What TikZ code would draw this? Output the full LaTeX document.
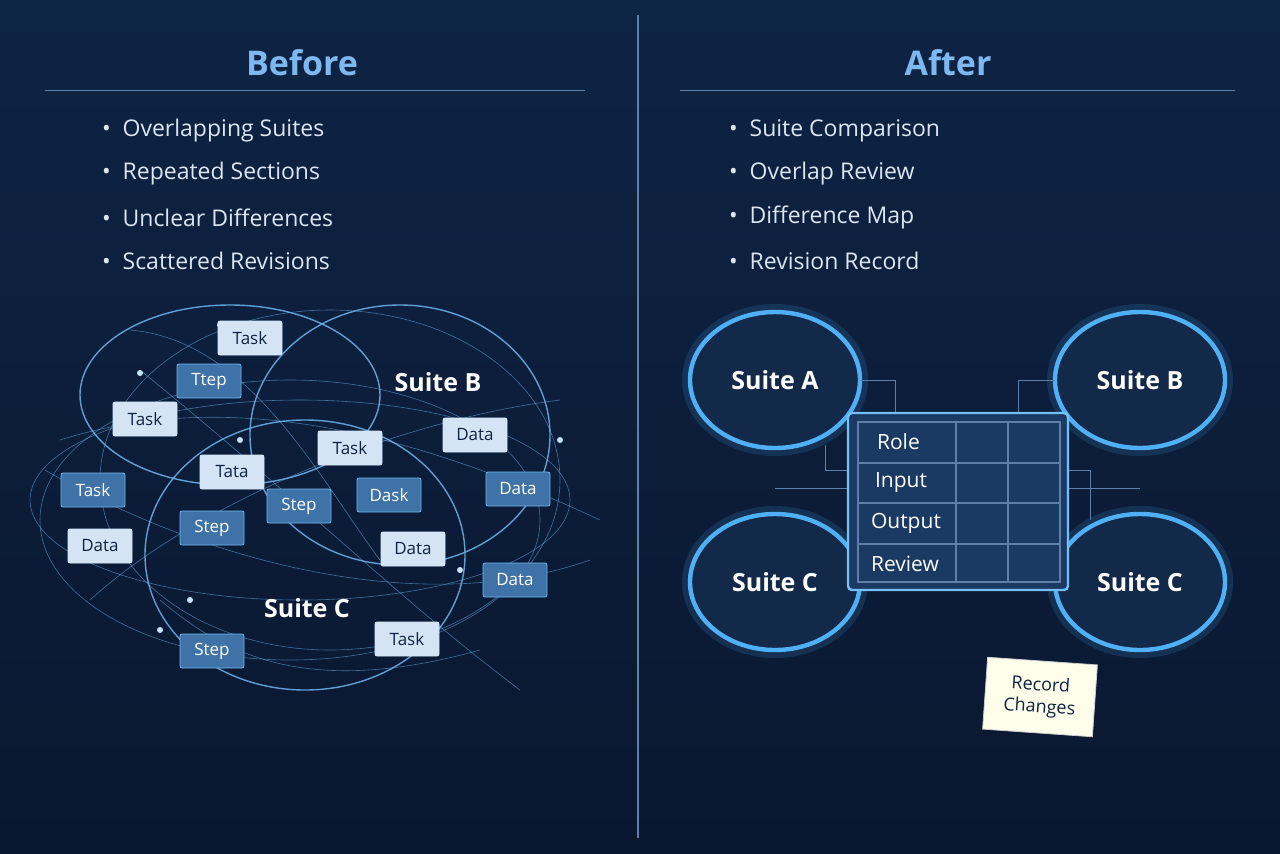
\documentclass[tikz,border=0pt]{standalone}
\usepackage{fontspec}
\setmainfont{Open Sans}
\definecolor{bgtop}{HTML}{0E2444}
\definecolor{bgbot}{HTML}{0A1730}
\definecolor{ttlc}{HTML}{7DB9F0}
\definecolor{txt}{HTML}{DCE6F2}
\definecolor{ringc}{HTML}{6FB6EE}
\definecolor{suitef}{HTML}{12294A}
\definecolor{suited}{HTML}{4FB0F5}
\definecolor{lboxf}{HTML}{D4E4F4}
\definecolor{dboxf}{HTML}{3F73A8}
\definecolor{linec}{HTML}{5E7FA8}
\definecolor{tablef}{HTML}{1A3A63}
\begin{document}
\begin{tikzpicture}[x=0.5pt,y=-0.5pt,
 bul/.style={anchor=west,text=txt,font=\fontsize{11.5}{14}\selectfont},
 ttl/.style={text=ttlc,font=\bfseries\fontsize{17}{20}\selectfont},
 lbox/.style={draw=white!70!ringc,fill=lboxf,text=bgtop,rounded corners=1pt,minimum width=32pt,minimum height=17pt,font=\fontsize{8.5}{10}\selectfont,inner sep=2pt},
 dbox/.style={lbox,draw=ringc,fill=dboxf,text=white},
 ring/.style={draw=ringc,line width=0.7pt,opacity=0.85},
 thin/.style={draw=ringc,line width=0.3pt,opacity=0.55},
 suite/.style={draw=suited,line width=2.2pt,fill=suitef},
 slab/.style={text=white,font=\bfseries\fontsize{12.5}{15}\selectfont},
 tlab/.style={anchor=west,text=white,font=\fontsize{10.5}{13}\selectfont}]
\useasboundingbox (0,0) rectangle (1280,853);
\shade[top color=bgtop, bottom color=bgbot] (0,0) rectangle (1280,853);
\draw[linec,line width=0.6pt] (638,15) -- (638,838);
% titles
\node[ttl] (tb) at (302,63) {Before};
\node[ttl] (ta) at (948,63) {After};
\draw[linec,line width=0.4pt] (45,90) -- (585,90);
\draw[linec,line width=0.4pt] (680,90) -- (1235,90);
\foreach \t [count=\i] in {Overlapping Suites,Repeated Sections,Unclear Differences,Scattered Revisions}
  \node[bul] (bl\i) at (95,87+43.5*\i) {\textbullet\ \ \t};
\foreach \t [count=\i] in {Suite Comparison,Overlap Review,Difference Map,Revision Record}
  \node[bul] (br\i) at (722,87+43.5*\i) {\textbullet\ \ \t};
% left tangle
\draw[ring] (400,435) ellipse (150 and 130);
\draw[ring] (230,395) ellipse (150 and 90);
\draw[ring] (305,555) ellipse (160 and 135);
\draw[thin] (300,500) ellipse (270 and 100);
\draw[thin] (290,520) ellipse (250 and 140);
\draw[thin] (330,480) ellipse (230 and 170);
\draw[thin] (45,470) .. controls (200,560) and (420,620) .. (590,560);
\draw[thin] (60,440) .. controls (250,380) and (450,450) .. (600,520);
\draw[thin] (90,600) .. controls (200,500) and (400,420) .. (560,400);
\draw[thin] (140,370) .. controls (300,500) and (400,600) .. (520,690);
\draw[thin] (160,600) .. controls (220,650) and (300,700) .. (480,650);
\draw[thin] (130,330) .. controls (250,340) and (320,480) .. (380,560);
\foreach \p in {(140,373),(220,325),(160,630),(250,480),(190,600),(560,440),(460,570),(240,440)}
  \fill[white!60!ringc] \p circle (3);
\node[slab] (sb) at (438,382) {Suite B};
\node[slab] (sc) at (307,608) {Suite C};
\node[lbox] (n1) at (250,338) {Task};
\node[dbox] (n2) at (209,381) {Ttep};
\node[lbox] (n3) at (145,419) {Task};
\node[lbox] (n4) at (350,448) {Task};
\node[lbox] (n5) at (475,435) {Data};
\node[lbox] (n6) at (232,472) {Tata};
\node[dbox] (n7) at (93,490) {Task};
\node[dbox] (n8) at (299,506) {Step};
\node[dbox] (n9) at (389,495) {Dask};
\node[dbox] (n10) at (518,489) {Data};
\node[dbox] (n11) at (212,528) {Step};
\node[lbox] (n12) at (100,546) {Data};
\node[lbox] (n13) at (413,549) {Data};
\node[dbox] (n14) at (515,580) {Data};
\node[dbox] (n15) at (212,651) {Step};
\node[lbox] (n16) at (407,639) {Task};
% right
\foreach \c in {(775,380),(1140,380),(775,582),(1140,582)}{
  \draw[suited,line width=6pt,opacity=0.15] \c ellipse (87 and 70);
  \draw[suite] \c ellipse (85 and 68);}
\node[slab] (la) at (775,380) {Suite A};
\node[slab] (lb) at (1140,380) {Suite B};
\node[slab] (lc1) at (775,582) {Suite C};
\node[slab] (lc2) at (1140,582) {Suite C};
\draw[linec,line width=0.5pt] (860,380) -- (895,380) -- (895,413);
\draw[linec,line width=0.5pt] (1055,380) -- (1018,380) -- (1018,413);
\draw[linec,line width=0.5pt] (775,488) -- (848,488);
\draw[linec,line width=0.5pt] (1068,488) -- (1140,488);
\draw[linec,line width=0.5pt] (825,445) -- (825,470) -- (848,470);
\draw[linec,line width=0.5pt] (1068,470) -- (1090,470) -- (1090,520);
\draw[suited!80!white,line width=1.2pt,fill=tablef,rounded corners=2pt] (848,413) rectangle (1068,590);
\draw[linec,line width=0.6pt] (858,422) rectangle (1060,582);
\foreach \y in {463,503,544} \draw[linec,line width=0.6pt] (858,\y) -- (1060,\y);
\draw[linec,line width=0.6pt] (956,422) -- (956,582);
\draw[linec,line width=0.6pt] (1008,422) -- (1008,582);
\node[tlab] (r1) at (870,442) {Role};
\node[tlab] (r2) at (868,483) {Input};
\node[tlab] (r3) at (864,523) {Output};
\node[tlab] (r4) at (864,564) {Review};
\node[rotate=-4,fill=yellow!8!white,draw=white!80!black,minimum width=55pt,minimum height=36pt,align=center,text=bgtop,font=\fontsize{9}{11}\selectfont] (note) at (1040,697) {Record\\Changes};
\end{tikzpicture}
\end{document}
